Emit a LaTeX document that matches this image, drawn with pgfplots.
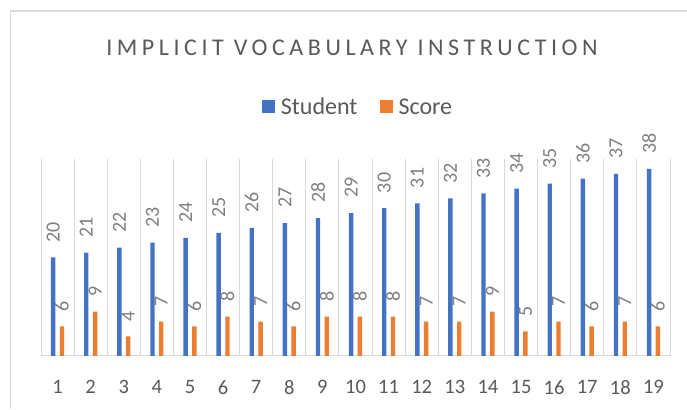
\documentclass[border=0pt]{standalone}
\usepackage{fontspec}
\setmainfont{Carlito}
\usepackage{pgfplots}
\pgfplotsset{compat=1.18}
\definecolor{cblue}{HTML}{4472C4}
\definecolor{corange}{HTML}{ED7D31}
\definecolor{txt}{HTML}{595959}
\definecolor{lbl}{HTML}{7F7F7F}
\definecolor{gridc}{HTML}{D9D9D9}
\begin{document}
\begin{tikzpicture}[x=1pt,y=1pt]
\path[use as bounding box] (0,0) rectangle (687,409);
\draw[gridc, line width=1.2pt] (10.5,0) -- (10.5,398) -- (687,398);
\node[text=txt, anchor=base, inner sep=0pt, font=\fontsize{24}{28}\selectfont\addfontfeature{LetterSpace=19}] at (352,353) {IMPLICIT VOCABULARY INSTRUCTION};
\begin{axis}[
  at={(41pt,53pt)}, anchor=south west, scale only axis,
  width=629pt, height=197pt,
  xmin=0.5, xmax=19.5, ymin=0, ymax=40,
  axis y line=none, axis x line*=bottom,
  axis line style={-, draw=gridc, line width=1pt},
  xtick={1,...,19},
  minor xtick={0.5,1.5,...,19.5},
  xminorgrids=true,
  minor grid style={draw=gridc, line width=1pt},
  major tick length=0pt, minor tick length=0pt,
  /pgf/number format/assume math mode=true,
  xticklabel style={font=\fontsize{20.5}{24}\selectfont, text=txt, inner sep=0pt, yshift=-24pt},
  ybar, bar width=4.4pt,
  clip=false,
  nodes near coords={\hspace*{15pt}\pgfmathprintnumber{\pgfplotspointmeta}},
  every node near coord/.append style={font=\fontsize{20}{24}\selectfont, text=lbl, rotate=90, anchor=west, inner sep=0pt},
  legend columns=2,
  legend style={at={(0.504,1.264)}, anchor=center, draw=none, fill=none, inner sep=0pt,
    font=\fontsize{24}{28}\selectfont, text=txt,
    /tikz/every even column/.append style={column sep=20pt}},
  legend image code/.code={\fill[#1] (0pt,-6.5pt) rectangle (13pt,6.5pt); \path (17pt,0pt);},
]
\addplot[fill=cblue, draw=none, bar shift=-4.4pt] coordinates {
(1,20) (2,21) (3,22) (4,23) (5,24) (6,25) (7,26) (8,27) (9,28) (10,29)
(11,30) (12,31) (13,32) (14,33) (15,34) (16,35) (17,36) (18,37) (19,38)};
\addplot[fill=corange, draw=none, bar shift=4.4pt] coordinates {
(1,6) (2,9) (3,4) (4,7) (5,6) (6,8) (7,7) (8,6) (9,8) (10,8)
(11,8) (12,7) (13,7) (14,9) (15,5) (16,7) (17,6) (18,7) (19,6)};
\legend{Student, Score}
\end{axis}
\end{tikzpicture}
\end{document}
